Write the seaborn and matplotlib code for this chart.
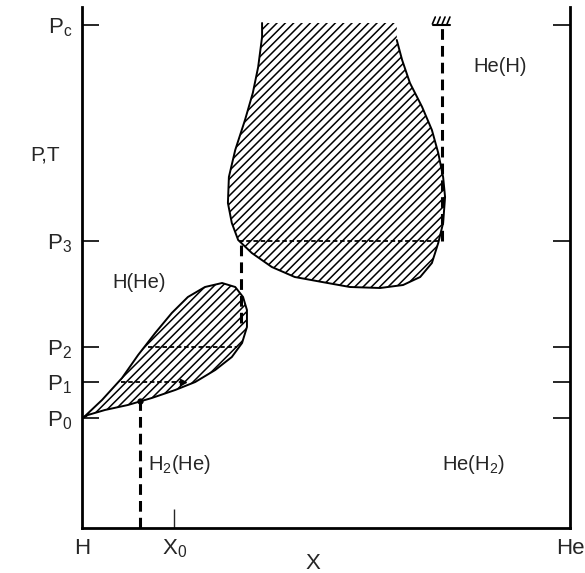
import matplotlib
matplotlib.use("Agg")
import matplotlib.pyplot as plt
import seaborn as sns
import pandas as pd
import numpy as np

# ---- data (schematic phase diagram, x = He fraction 0..1, y = P,T scale) ----
p_ticks = [110, 146, 181, 287, 503]
p_labels = ["P$_0$", "P$_1$", "P$_2$", "P$_3$", "P$_c$"]
x_ticks = [0.0, 0.189, 1.0]
x_labels = ["H", "X$_0$", "He"]

lower_x = [0.002, 0.041, 0.082, 0.115, 0.150, 0.184, 0.217, 0.252, 0.287, 0.314,
           0.330, 0.338, 0.338, 0.328, 0.307, 0.273, 0.232, 0.191, 0.143, 0.094,
           0.047, 0.012, 0.002]
lower_y = [110, 128, 150, 173, 195, 215, 231, 241, 245, 241,
           231, 218, 201, 185, 171, 158, 146, 138, 130, 123,
           118, 113, 110]

upper_x = [0.369, 0.369, 0.361, 0.350, 0.334, 0.314, 0.301, 0.299, 0.307, 0.320,
           0.348, 0.389, 0.436, 0.492, 0.549, 0.611, 0.658, 0.693, 0.717, 0.730,
           0.740, 0.744, 0.740, 0.730, 0.717, 0.697, 0.672, 0.656, 0.645, 0.645]
upper_y = [505, 491, 461, 435, 408, 378, 351, 325, 305, 288,
           275, 261, 251, 246, 241, 240, 243, 251, 265, 285,
           305, 331, 351, 375, 398, 421, 445, 468, 488, 505]

# tie lines / boundaries
vert_right_x, vert_right_y = [0.738, 0.738], [287, 503]
vert_mid_x, vert_mid_y = [0.326, 0.326], [205, 287]
vert_low_x, vert_low_y = [0.119, 0.119], [0, 127]
tie_p3_x, tie_p3_y = [0.322, 0.730], [287, 287]
tie_p2_x, tie_p2_y = [0.135, 0.318], [181, 181]
tie_p1_x, tie_p1_y = [0.080, 0.207], [146, 146]

region_labels = ["H(He)", "He(H)", "H$_2$(He)", "He(H$_2$)"]
region_x = [0.117, 0.857, 0.199, 0.802]
region_y = [246, 461, 63, 63]

sns.set_style("white")
plt.rcParams["font.family"] = ["Liberation Sans", "DejaVu Sans"]
plt.rcParams["mathtext.default"] = "regular"
plt.rcParams["hatch.linewidth"] = 1.1

fig = plt.figure(figsize=(5.85, 5.73), dpi=100)
ax = fig.add_axes([82 / 585, 1 - 528 / 573, 488 / 585, 521 / 573])
ax.set_xlim(0, 1)
ax.set_ylim(0, 521)

# hatched regions
ax.fill(lower_x, lower_y, facecolor="white", edgecolor="black", hatch="////", linewidth=0)
ax.fill(upper_x, upper_y, facecolor="white", edgecolor="black", hatch="////", linewidth=0)

low_df = pd.DataFrame({"x": lower_x, "y": lower_y})
sns.lineplot(data=low_df, x="x", y="y", sort=False, color="black", lw=1.4, ax=ax, estimator=None)
up_df = pd.DataFrame({"x": upper_x[:-1], "y": upper_y[:-1]})
sns.lineplot(data=up_df, x="x", y="y", sort=False, color="black", lw=1.4, ax=ax, estimator=None)

# dashed verticals
for xs, ys in [(vert_right_x, vert_right_y), (vert_mid_x, vert_mid_y), (vert_low_x, vert_low_y)]:
    ax.plot(xs, ys, color="black", lw=2.2, dashes=(3.5, 2))
# dotted tie lines
for xs, ys in [(tie_p3_x, tie_p3_y), (tie_p2_x, tie_p2_y), (tie_p1_x, tie_p1_y)]:
    ax.plot(xs, ys, color="black", lw=1.3, dashes=(2.5, 1.5))
ax.plot([tie_p1_x[1]], [tie_p1_y[1]], marker=">", color="black", ms=5)
ax.plot([vert_low_x[1]], [vert_low_y[1]], marker="o", color="black", ms=3.5)

# hatch symbol at the top of right vertical line
gx = vert_right_x[0]
gy = vert_right_y[1]
ax.plot([gx - 0.018, gx + 0.016], [gy, gy], color="black", lw=1.5)
for dx in np.linspace(-0.014, 0.016, 4):
    ax.plot([gx + dx - 0.006, gx + dx], [gy + 1, gy + 8], color="black", lw=1.2)

# region labels
for lab, tx, ty in zip(region_labels, region_x, region_y):
    ax.text(tx, ty, lab, fontsize=14.5, ha="center", va="center")

ax.text(-0.076, 373, "P,T", fontsize=15, ha="center", va="center", clip_on=False)

# axes styling
for s in ["left", "right", "bottom"]:
    ax.spines[s].set_linewidth(2.0)
    ax.spines[s].set_color("black")
ax.spines["top"].set_visible(False)

ax.set_yticks(p_ticks)
ax.set_yticklabels(p_labels, fontsize=16)
ax.tick_params(axis="y", direction="in", length=12, width=1.4, left=True, right=True, pad=7)
ax.set_xticks(x_ticks)
ax.set_xticklabels(x_labels, fontsize=16)
ax.tick_params(axis="x", direction="in", length=14, width=1.0, bottom=True, pad=7)
xt = ax.xaxis.get_major_ticks()
xt[0].tick1line.set_visible(False)
xt[2].tick1line.set_visible(False)
ax.set_xlabel("")
ax.set_ylabel("")
ax.text(0.473, -0.069, "X", fontsize=16, ha="center", va="center", transform=ax.transAxes, clip_on=False)

fig.savefig("out.png", dpi=100)
